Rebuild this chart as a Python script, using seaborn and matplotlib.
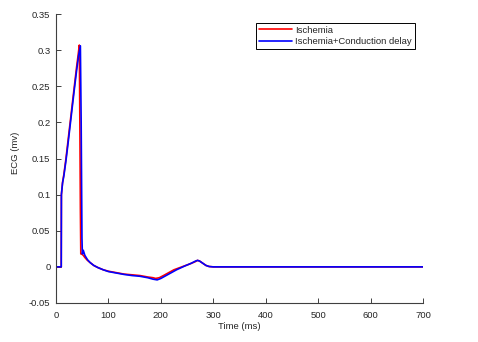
import numpy as np
import pandas as pd
import matplotlib
matplotlib.use("Agg")
import matplotlib.pyplot as plt
import seaborn as sns

# ── Data ──────────────────────────────────────
t_isch = [0, 10, 10.3, 12.5, 15, 19, 23, 27, 31, 35, 39, 42, 44.5, 45.5, 46.5, 47.3,
          49.5, 52, 55, 60, 65, 72, 80, 90, 100, 115, 130, 145, 160, 175, 185,
          190, 197, 205, 215, 225, 240, 255, 265, 270, 274, 280, 286, 292, 300, 700]
v_isch = [0, 0, 0.100, 0.117, 0.128, 0.150, 0.175, 0.200, 0.225, 0.250, 0.275, 0.292,
          0.307, 0.200, 0.080, 0.018, 0.0175, 0.016, 0.013, 0.009, 0.006, 0.002, -0.001,
          -0.004, -0.006, -0.008, -0.010, -0.011, -0.012, -0.014, -0.015, -0.016,
          -0.015, -0.012, -0.008, -0.004, 0.000, 0.004, 0.007, 0.009, 0.008, 0.005,
          0.002, 0.0005, 0, 0]

t_delay = [0, 10, 10.3, 12.5, 15, 19, 23, 27, 31, 35, 39, 43, 46.5, 48, 49.5, 50.3,
           52, 55, 60, 65, 72, 80, 90, 100, 115, 130, 145, 160, 175, 185, 193, 200,
           210, 220, 230, 245, 258, 266, 270, 274, 280, 286, 292, 300, 700]
v_delay = [0, 0, 0.100, 0.116, 0.126, 0.147, 0.171, 0.196, 0.221, 0.246, 0.270, 0.292,
           0.306, 0.200, 0.040, 0.018, 0.023, 0.016, 0.010, 0.006, 0.002, -0.001,
           -0.004, -0.0065, -0.0085, -0.0105, -0.012, -0.013, -0.015, -0.017, -0.018,
           -0.016, -0.012, -0.008, -0.004, 0.001, 0.005, 0.008, 0.009, 0.008, 0.005,
           0.002, 0.0005, 0, 0]

x_ticks = [0, 100, 200, 300, 400, 500, 600, 700]
y_ticks = [-0.05, 0, 0.05, 0.1, 0.15, 0.2, 0.25, 0.3, 0.35]
y_labels = ["-0.05", "0", "0.05", "0.1", "0.15", "0.2", "0.25", "0.3", "0.35"]

# ── Styling ─────────────────────────────────
sns.set_style("white")
FS = 6.8
plt.rcParams.update({
    "font.family": ["Liberation Sans", "DejaVu Sans"],
    "font.size": FS,
    "text.color": "#262626",
    "axes.edgecolor": "#404040",
    "axes.linewidth": 0.8,
    "xtick.direction": "in",
    "ytick.direction": "in",
    "xtick.color": "#404040",
    "ytick.color": "#404040",
    "xtick.labelcolor": "#262626",
    "ytick.labelcolor": "#262626",
    "xtick.major.size": 3.5,
    "ytick.major.size": 3.5,
    "xtick.major.width": 0.7,
    "ytick.major.width": 0.7,
    "xtick.bottom": True,
    "ytick.left": True,
})

df_isch = pd.DataFrame({"Time": t_isch, "ECG": v_isch})
df_delay = pd.DataFrame({"Time": t_delay, "ECG": v_delay})

fig = plt.figure(figsize=(4.78, 3.42), dpi=100)
ax = fig.add_axes([56 / 478, 1 - 303 / 342, (423 - 56) / 478, (303 - 14) / 342])

sns.lineplot(data=df_isch, x="Time", y="ECG", color="#ff0000", linewidth=1.2,
             label="Ischemia", sort=False, estimator=None, ax=ax)
sns.lineplot(data=df_delay, x="Time", y="ECG", color="#0000ff", linewidth=1.2,
             label="Ischemia+Conduction delay", sort=False, estimator=None, ax=ax)

ax.set_xlim(0, 700)
ax.set_ylim(-0.05, 0.35)
ax.set_xticks(x_ticks)
ax.set_yticks(y_ticks)
ax.set_yticklabels(y_labels)
ax.tick_params(axis="x", labelsize=FS, pad=5.5)
ax.tick_params(axis="y", labelsize=FS, pad=4)
ax.set_xlabel("Time (ms)", fontsize=FS, labelpad=2)
ax.set_ylabel("ECG (mv)", fontsize=FS)
ax.yaxis.set_label_coords(-0.098, 0.52)
sns.despine(ax=ax)

leg = ax.legend(loc="upper right", bbox_to_anchor=(0.978, 0.969), fontsize=FS,
                frameon=True, fancybox=False, edgecolor="black", framealpha=1,
                handlelength=3.5, borderpad=0.3, labelspacing=0.25, handletextpad=0.35,
                borderaxespad=0)
leg.get_frame().set_linewidth(0.7)

fig.savefig("out.png", dpi=100)
